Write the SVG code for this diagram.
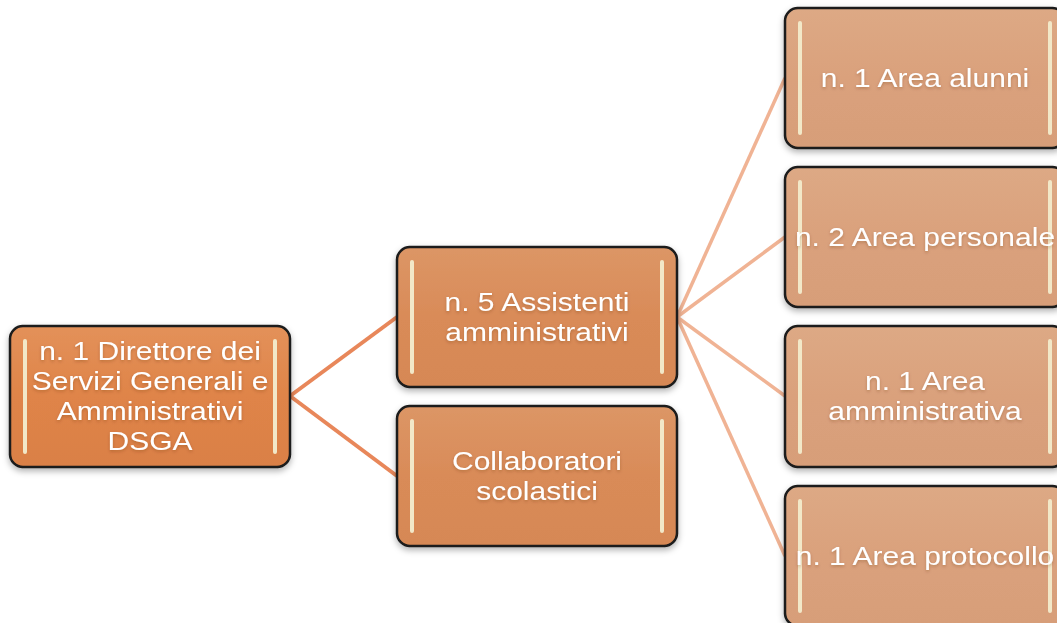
<svg xmlns="http://www.w3.org/2000/svg" width="1057" height="623" viewBox="0 0 1057 623">
<defs>
<filter id="sh" x="-10%" y="-10%" width="120%" height="130%">
<feDropShadow dx="0" dy="3" stdDeviation="3" flood-color="#000" flood-opacity="0.3"/>
</filter>
<filter id="ts" x="-5%" y="-20%" width="110%" height="150%">
<feDropShadow dx="0" dy="1.5" stdDeviation="1.5" flood-color="#5a2a0a" flood-opacity="0.3"/>
</filter>
<linearGradient id="g0" x1="0" y1="0" x2="0" y2="1">
<stop offset="0" stop-color="#E3915A"/><stop offset="0.5" stop-color="#DF8448"/><stop offset="1" stop-color="#DA8046"/>
</linearGradient>
<linearGradient id="g1" x1="0" y1="0" x2="0" y2="1">
<stop offset="0" stop-color="#DC9666"/><stop offset="0.5" stop-color="#D98B58"/><stop offset="1" stop-color="#D68855"/>
</linearGradient>
<linearGradient id="g2" x1="0" y1="0" x2="0" y2="1">
<stop offset="0" stop-color="#DDA985"/><stop offset="0.5" stop-color="#DAA17C"/><stop offset="1" stop-color="#D79E79"/>
</linearGradient>
</defs>
<style>
.box{stroke:#1a1a1a;stroke-width:2.5;filter:url(#sh)}
.bar{stroke:#F2E8C8;stroke-width:4;stroke-linecap:round}
.t{font-family:"Liberation Sans",Arial,sans-serif;font-size:25px;fill:#fff;text-anchor:middle;filter:url(#ts)}
.c1{stroke:#E8875A;stroke-width:4;fill:none}
.c2{stroke:#F0B394;stroke-width:3.5;fill:none}
</style>
<rect width="1057" height="623" fill="#fff"/>
<g id="connectors">
<line class="c1" x1="290" y1="396" x2="397" y2="317"/>
<line class="c1" x1="290" y1="396" x2="397" y2="476"/>
<line class="c2" x1="677" y1="317" x2="785" y2="78"/>
<line class="c2" x1="677" y1="317" x2="785" y2="237"/>
<line class="c2" x1="677" y1="317" x2="785" y2="396"/>
<line class="c2" x1="677" y1="317" x2="785" y2="556"/>
</g>
<g id="n0">
<rect class="box" x="10" y="326" width="280" height="141" rx="13" fill="url(#g0)"/>
<line class="bar" x1="25" y1="341" x2="25" y2="452"/><line class="bar" x1="275" y1="341" x2="275" y2="452"/>
<g transform="translate(150 0) scale(1.2 1)">
<text class="t" x="0" y="360">n. 1 Direttore dei</text>
<text class="t" x="0" y="390">Servizi Generali e</text>
<text class="t" x="0" y="420">Amministrativi</text>
<text class="t" x="0" y="450">DSGA</text>
</g>
</g>
<g id="n1">
<rect class="box" x="397" y="247" width="280" height="140" rx="13" fill="url(#g1)"/>
<line class="bar" x1="412" y1="262" x2="412" y2="372"/><line class="bar" x1="662" y1="262" x2="662" y2="372"/>
<g transform="translate(537 0) scale(1.2 1)">
<text class="t" x="0" y="311">n. 5 Assistenti</text>
<text class="t" x="0" y="341">amministrativi</text>
</g>
</g>
<g id="n2">
<rect class="box" x="397" y="406" width="280" height="140" rx="13" fill="url(#g1)"/>
<line class="bar" x1="412" y1="421" x2="412" y2="531"/><line class="bar" x1="662" y1="421" x2="662" y2="531"/>
<g transform="translate(537 0) scale(1.2 1)">
<text class="t" x="0" y="470">Collaboratori</text>
<text class="t" x="0" y="500">scolastici</text>
</g>
</g>
<g id="n3">
<rect class="box" x="785" y="8" width="280" height="140" rx="13" fill="url(#g2)"/>
<line class="bar" x1="800" y1="23" x2="800" y2="133"/><line class="bar" x1="1050" y1="23" x2="1050" y2="133"/>
<g transform="translate(925 0) scale(1.2 1)">
<text class="t" x="0" y="87">n. 1 Area alunni</text>
</g>
</g>
<g id="n4">
<rect class="box" x="785" y="167" width="280" height="140" rx="13" fill="url(#g2)"/>
<line class="bar" x1="800" y1="182" x2="800" y2="292"/><line class="bar" x1="1050" y1="182" x2="1050" y2="292"/>
<g transform="translate(925 0) scale(1.2 1)">
<text class="t" x="0" y="246">n. 2 Area personale</text>
</g>
</g>
<g id="n5">
<rect class="box" x="785" y="326" width="280" height="141" rx="13" fill="url(#g2)"/>
<line class="bar" x1="800" y1="341" x2="800" y2="452"/><line class="bar" x1="1050" y1="341" x2="1050" y2="452"/>
<g transform="translate(925 0) scale(1.2 1)">
<text class="t" x="0" y="390">n. 1 Area</text>
<text class="t" x="0" y="420">amministrativa</text>
</g>
</g>
<g id="n6">
<rect class="box" x="785" y="486" width="280" height="140" rx="13" fill="url(#g2)"/>
<line class="bar" x1="800" y1="501" x2="800" y2="611"/><line class="bar" x1="1050" y1="501" x2="1050" y2="611"/>
<g transform="translate(925 0) scale(1.2 1)">
<text class="t" x="0" y="565">n. 1 Area protocollo</text>
</g>
</g>
</svg>
